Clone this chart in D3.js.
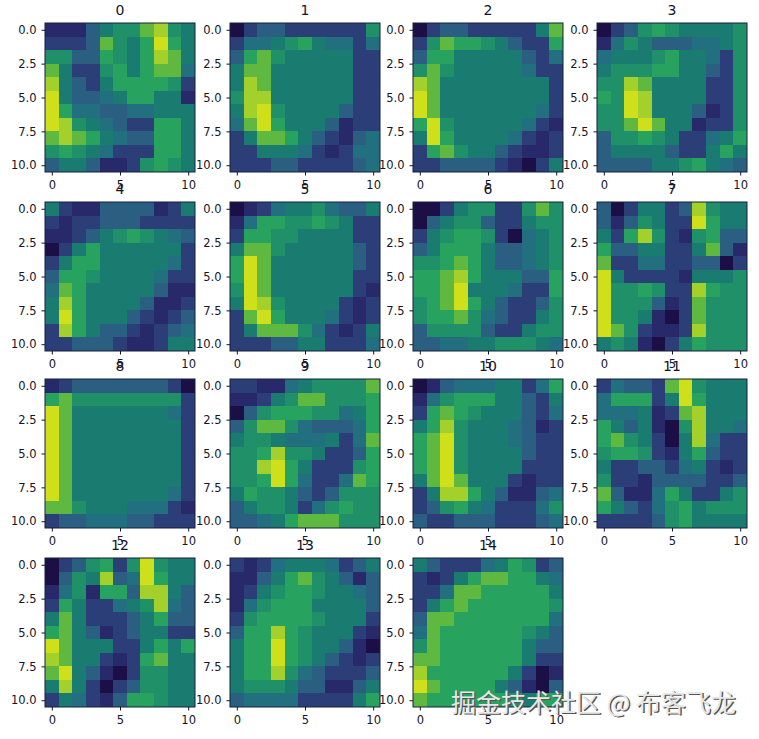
<!DOCTYPE html>
<html>
<head>
<meta charset="utf-8">
<script src="https://cdn.jsdelivr.net/npm/d3@7"></script>
<style>
  html, body { margin: 0; padding: 0; background: #fff; }
  svg { display: block; }
  text { font-family: "DejaVu Sans", sans-serif; fill: #14142a; }
</style>
</head>
<body>
<div id="chart"></div>
<script>
// Activation levels, 0 (darkest) to 10 (yellow), one array per filter
const filter0 = [[1,1,1,3,5,6,6,8,9,6,5],[2,2,2,3,8,6,5,7,10,7,5],[6,6,3,3,7,6,5,7,9,8,5],[8,5,2,2,6,7,5,7,8,8,4],[9,5,3,2,5,7,7,7,7,6,2],[10,5,3,3,4,5,7,7,5,5,1],[10,7,4,4,3,3,4,4,5,5,5],[10,9,6,5,4,3,2,2,7,7,5],[8,9,8,7,5,4,3,3,7,7,5],[6,7,6,5,4,2,2,2,7,7,5],[3,5,5,3,1,1,2,6,7,6,5]];
const filter1 = [[0,2,3,3,2,2,2,2,2,2,6],[2,4,4,5,6,7,5,4,4,2,4],[3,7,8,6,5,5,5,5,5,2,2],[5,8,8,5,5,5,5,5,5,2,2],[5,9,8,5,5,5,5,5,5,2,2],[6,9,9,5,5,5,5,5,5,2,2],[5,9,10,6,5,5,5,5,3,2,2],[4,8,10,7,5,5,5,3,1,2,2],[2,5,8,8,7,5,3,2,1,3,4],[2,2,5,5,5,4,2,1,2,4,4],[2,2,2,3,3,2,2,2,2,3,4]];
const filter2 = [[0,2,3,3,2,2,2,2,2,5,8],[2,6,8,7,7,6,5,3,2,2,7],[3,7,7,5,5,5,5,5,3,2,4],[6,8,6,5,5,5,5,5,4,2,2],[9,8,5,5,5,5,5,5,5,5,2],[10,8,5,5,5,5,5,5,5,5,2],[10,8,5,5,5,5,5,5,5,4,2],[7,10,6,5,5,5,5,5,4,2,1],[5,10,7,5,5,5,5,4,2,1,2],[2,7,8,6,5,5,3,2,1,1,2],[2,2,3,3,3,3,2,1,0,2,5]];
const filter3 = [[0,2,3,6,7,6,5,5,5,5,6],[1,4,6,5,3,3,3,4,4,5,6],[4,5,5,5,6,7,5,5,4,2,6],[5,6,6,6,7,7,5,5,3,2,6],[6,6,9,8,5,5,5,5,2,2,6],[7,6,10,9,5,5,5,5,2,2,6],[6,6,10,9,5,5,5,3,1,2,6],[6,6,8,10,8,5,5,1,2,2,6],[3,6,6,7,6,5,2,2,4,5,7],[3,5,5,5,5,3,2,2,5,7,5],[3,3,3,3,5,5,6,7,5,4,3]];
const filter4 = [[5,2,1,1,3,3,3,3,1,2,5],[2,1,2,2,3,3,3,2,2,2,2],[1,1,2,3,5,6,7,6,5,4,3],[0,2,5,7,5,5,5,5,5,5,2],[2,5,7,7,5,5,5,5,5,4,2],[3,7,7,6,5,5,5,5,4,2,2],[4,8,7,5,5,5,5,5,3,1,1],[5,9,7,5,5,5,5,3,1,1,2],[5,10,7,5,5,5,3,2,1,2,3],[2,9,7,5,3,3,2,1,2,3,4],[2,2,3,3,3,2,1,1,2,5,5]];
const filter5 = [[0,1,2,4,5,5,6,4,3,3,5],[1,4,7,7,6,6,7,6,5,2,2],[2,7,7,6,6,5,5,5,5,2,2],[5,8,8,6,5,5,5,5,5,3,2],[7,10,8,5,5,5,5,5,5,3,2],[7,10,8,5,5,5,5,5,5,2,2],[6,10,8,5,5,5,5,5,5,2,1],[5,10,9,6,5,5,5,5,2,1,2],[2,8,10,7,5,5,5,4,2,1,2],[2,5,8,8,8,6,4,2,1,2,5],[2,2,2,3,3,5,5,2,2,2,4]];
const filter6 = [[0,0,2,5,6,6,2,2,6,8,6],[0,3,5,6,6,3,2,2,5,6,6],[2,5,6,7,7,6,2,0,4,5,6],[3,5,7,7,7,5,3,3,4,5,6],[6,6,7,8,7,5,3,3,4,5,6],[7,7,8,9,7,5,5,5,3,3,7],[7,7,8,10,5,5,5,4,2,2,7],[6,7,8,10,7,5,3,2,2,3,6],[6,7,7,8,6,4,3,2,2,5,6],[3,6,6,6,6,3,2,2,5,6,6],[3,3,4,4,5,5,6,6,6,5,4]];
const filter7 = [[3,0,2,5,5,2,3,9,6,5,5],[3,1,3,6,5,2,2,10,7,5,5],[5,2,7,9,6,2,1,6,7,3,3],[7,3,3,5,5,2,2,5,8,3,1],[8,2,2,4,4,2,2,3,3,0,2],[10,5,2,2,2,2,1,5,5,5,6],[10,6,6,7,6,2,2,9,7,6,6],[10,6,6,6,3,1,2,8,6,6,6],[10,6,6,5,1,0,2,8,6,6,6],[10,8,6,2,1,1,2,9,6,6,6],[5,6,5,1,0,2,5,7,6,6,6]];
const filter8 = [[1,2,3,3,3,3,3,3,3,2,0],[7,8,6,6,6,6,6,6,6,6,2],[10,8,5,5,5,5,5,5,5,4,2],[10,8,5,5,5,5,5,5,5,5,2],[10,8,5,5,5,5,5,5,5,5,2],[10,8,5,5,5,5,5,5,5,5,2],[10,8,5,5,5,5,5,5,5,5,2],[10,8,5,5,5,5,5,5,5,5,2],[10,8,5,5,5,5,5,5,5,4,2],[8,8,6,5,5,5,4,4,4,2,1],[2,3,3,4,4,4,3,3,2,2,2]];
const filter9 = [[2,2,1,1,4,5,6,6,6,6,8],[1,1,2,5,6,8,8,6,6,6,7],[0,3,6,7,7,7,6,6,4,5,7],[3,6,8,8,6,4,3,3,3,4,7],[5,6,6,5,4,4,4,5,2,4,8],[6,6,7,9,6,6,5,2,2,3,7],[6,6,9,10,7,5,2,2,2,6,7],[6,6,7,10,7,4,2,2,4,8,7],[5,7,6,6,5,3,2,3,6,6,6],[3,5,6,6,5,2,4,6,7,6,6],[3,3,4,5,7,8,8,8,6,6,6]];
const filter10 = [[0,1,3,4,4,4,5,5,2,4,7],[1,4,6,7,7,7,5,5,3,2,5],[2,7,8,7,6,5,5,5,3,2,4],[5,7,9,6,5,5,5,4,3,1,2],[7,8,10,6,5,5,5,4,3,2,2],[7,8,10,6,5,5,5,5,3,2,2],[7,8,10,6,5,5,5,5,2,2,2],[5,8,10,8,5,5,5,2,1,2,2],[2,5,9,9,7,5,3,1,1,3,4],[2,3,6,7,5,4,2,2,2,4,6],[3,2,2,3,3,3,2,2,2,3,4]];
const filter11 = [[2,4,3,3,2,8,10,6,5,5,5],[4,7,7,7,2,5,10,7,5,5,5],[4,4,4,5,1,2,8,9,5,5,5],[7,5,3,5,1,0,6,9,5,5,4],[7,8,6,5,2,0,5,9,4,2,2],[6,7,7,6,2,1,5,7,3,2,2],[5,2,2,3,3,2,4,5,2,1,2],[6,2,2,1,3,3,3,3,2,2,3],[8,3,1,1,4,7,5,2,2,5,6],[7,5,3,2,4,6,7,5,6,6,6],[2,2,2,2,3,6,7,5,5,5,5]];
const filter12 = [[0,2,3,6,7,2,6,10,6,5,5],[0,3,6,5,9,3,4,10,7,5,5],[1,4,6,1,7,7,3,9,9,5,3],[2,7,5,2,2,4,5,6,9,4,3],[5,8,5,2,2,2,3,5,7,3,3],[7,8,5,3,1,2,3,5,5,2,2],[10,8,5,5,5,2,2,5,7,5,7],[9,8,5,5,2,1,2,7,8,5,5],[8,10,5,3,1,0,2,6,6,5,5],[5,9,5,2,0,2,3,6,6,5,5],[2,5,4,2,1,3,7,7,6,5,5]];
const filter13 = [[2,1,2,4,5,5,5,4,2,3,5],[1,1,3,5,7,8,6,5,3,1,3],[1,2,5,6,7,7,6,5,5,4,3],[1,4,6,7,7,7,5,5,5,5,3],[2,6,7,7,7,7,6,5,5,5,2],[3,7,7,9,7,6,5,5,5,2,1],[5,7,7,10,7,6,5,5,3,1,0],[5,7,7,10,7,6,5,3,2,1,2],[5,7,7,9,6,4,3,2,2,2,3],[5,6,6,6,5,3,3,1,1,3,5],[3,4,4,4,4,2,2,2,2,5,7]];
const filter14 = [[5,3,2,2,2,4,5,7,6,2,3],[2,1,2,5,7,8,8,7,7,5,4],[2,2,4,8,8,7,7,7,7,7,5],[2,5,7,8,7,7,7,7,7,7,6],[3,8,8,7,7,7,7,7,7,7,4],[4,8,7,7,7,7,7,7,6,5,3],[6,8,7,7,7,7,7,7,5,3,3],[8,8,7,7,7,7,7,7,5,2,2],[9,7,7,7,7,7,7,5,2,0,1],[10,8,7,7,7,7,5,3,1,0,3],[8,7,7,7,7,7,7,6,5,7,7]];

const filters = [filter0, filter1, filter2, filter3, filter4, filter5, filter6, filter7,
  filter8, filter9, filter10, filter11, filter12, filter13, filter14];
const xTicks = [0, 5, 10];
const yTicks = [0, 2.5, 5, 7.5, 10];
const watermark = '掘金技术社区 @ 布客飞龙';

const width = 759, height = 739;
const colLefts = [45, 230, 413, 597], rowTops = [23, 202, 379, 558];
const panelW = 150, panelH = 149;

// gif palette of the viridis map, a bit greener than d3.interpolateViridis
const color = d3.scaleLinear()
  .domain(d3.range(11))
  .range(['#1c0f45', '#28296a', '#2c3e78', '#2a5f82', '#22707f', '#1a7b70',
    '#1f9068', '#27a25f', '#5fb940', '#a3d02b', '#cfe01a']);

const svg = d3.select('#chart').append('svg')
  .attr('width', width)
  .attr('height', height);

filters.forEach(function (values, idx) {
  const left = colLefts[idx % 4], top = rowTops[Math.floor(idx / 4)];
  const x = d3.scaleLinear().domain([-0.5, 10.5]).range([left, left + panelW]);
  const y = d3.scaleLinear().domain([-0.5, 10.5]).range([top, top + panelH]);
  const g = svg.append('g');

  const cells = values.flatMap((row, r) => row.map((v, c) => ({ r, c, v })));
  g.selectAll('rect')
    .data(cells)
    .join('rect')
    .attr('x', d => x(d.c - 0.5))
    .attr('y', d => y(d.r - 0.5))
    .attr('width', x(1) - x(0))
    .attr('height', y(1) - y(0))
    .attr('shape-rendering', 'crispEdges')
    .attr('fill', d => color(d.v));

  g.append('rect')
    .attr('x', left).attr('y', top)
    .attr('width', panelW).attr('height', panelH)
    .attr('fill', 'none')
    .attr('stroke', '#14203c')
    .attr('stroke-width', 1);

  const xAxis = g.append('g')
    .attr('transform', `translate(0,${top + panelH})`)
    .call(d3.axisBottom(x).tickValues(xTicks).tickFormat(d3.format('d')).tickSize(3.5).tickPadding(5));
  const yAxis = g.append('g')
    .attr('transform', `translate(${left},0)`)
    .call(d3.axisLeft(y).tickValues(yTicks).tickFormat(d3.format('.1f')).tickSize(3.5).tickPadding(5));
  [xAxis, yAxis].forEach(function (a) {
    a.select('.domain').remove();
    a.selectAll('text').style('font-size', '11.5px').style('font-family', '"DejaVu Sans", sans-serif');
    a.selectAll('line').attr('stroke', '#14142a');
  });

  g.append('text')
    .attr('x', left + panelW / 2)
    .attr('y', top - 8)
    .attr('text-anchor', 'middle')
    .style('font-size', '14px')
    .text(idx);
});

// site watermark, bottom right
svg.append('text')
  .attr('x', 452.5).attr('y', 713)
  .style('font-family', '"Noto Sans CJK SC"')
  .style('font-size', '25px')
  .style('fill', '#555')
  .text(watermark);
svg.append('text')
  .attr('x', 451).attr('y', 711.5)
  .style('font-family', '"Noto Sans CJK SC"')
  .style('font-size', '25px')
  .style('fill', '#e8e8e8')
  .text(watermark);
</script>
</body>
</html>
